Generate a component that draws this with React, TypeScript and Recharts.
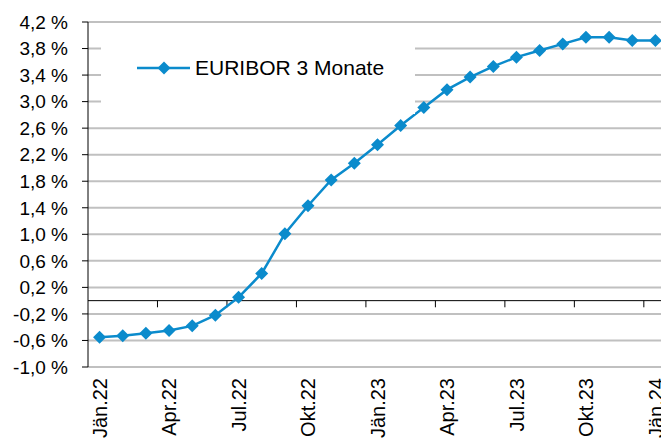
import { LineChart, Line, XAxis, YAxis, CartesianGrid, ReferenceLine, Legend } from 'recharts';

const months = [
  'Jän.22', 'Feb.22', 'Mär.22', 'Apr.22', 'Mai.22', 'Jun.22', 'Jul.22', 'Aug.22', 'Sep.22', 'Okt.22', 'Nov.22', 'Dez.22',
  'Jän.23', 'Feb.23', 'Mär.23', 'Apr.23', 'Mai.23', 'Jun.23', 'Jul.23', 'Aug.23', 'Sep.23', 'Okt.23', 'Nov.23', 'Dez.23',
  'Jän.24',
];

const euribor3m = [
  -0.55, -0.53, -0.49, -0.45, -0.38, -0.22, 0.05, 0.41, 1.01, 1.43, 1.82, 2.07,
  2.35, 2.64, 2.91, 3.18, 3.37, 3.53, 3.67, 3.77, 3.87, 3.97, 3.97, 3.92,
  3.92,
];

const yTicks = [-1.0, -0.6, -0.2, 0.2, 0.6, 1.0, 1.4, 1.8, 2.2, 2.6, 3.0, 3.4, 3.8, 4.2];
const xLabelTicks = [0, 3, 6, 9, 12, 15, 18, 21, 24];
// Excel puts the small tick marks on the zero line between categories
const xTickMarks = [2.5, 5.5, 8.5, 11.5, 14.5, 17.5, 20.5, 23.5];

const BLUE = '#0b8bcc';
const FONT = '"Liberation Sans", Arial, sans-serif';

const data = euribor3m.map((v, i) => ({ idx: i, value: v }));

const fmtPct = (v: number) => `${v.toFixed(1).replace('.', ',')} %`;

function Diamond(props: any) {
  const { cx, cy } = props;
  if (cx == null || cy == null) return null;
  const r = 6.5;
  return (
    <polygon
      points={`${cx},${cy - r} ${cx + r},${cy} ${cx},${cy + r} ${cx - r},${cy}`}
      fill={BLUE}
    />
  );
}

function MonthTick(props: any) {
  const { x, y, payload } = props;
  return (
    <g transform={`translate(${x},${y})`}>
      <text
        x={0}
        y={0}
        dy="0.36em"
        transform="rotate(-90)"
        textAnchor="end"
        fontSize={20}
        fontFamily={FONT}
        fill="#000"
      >
        {months[payload.value]}
      </text>
    </g>
  );
}

function LegendBox() {
  return (
    <div style={{ width: 314, height: 84, background: '#fff' }}>
      <svg width={314} height={84}>
        <line x1={36} y1={38} x2={89} y2={38} stroke={BLUE} strokeWidth={2.5} />
        <polygon points="63,31.5 69.5,38 63,44.5 56.5,38" fill={BLUE} />
        <text x={94} y={45} fontSize={21} fontFamily={FONT} fill="#000">
          EURIBOR 3 Monate
        </text>
      </svg>
    </div>
  );
}

export default function App() {
  return (
    <div style={{ position: 'fixed', left: 0, top: 0, width: 661, height: 441, overflow: 'hidden', background: '#fff' }}>
      <LineChart
        width={700}
        height={441}
        data={data}
        margin={{ top: 22, right: 33, left: 0, bottom: 0 }}
      >
        <CartesianGrid vertical={false} stroke="#c0c0c0" strokeWidth={2} />
        <XAxis
          dataKey="idx"
          type="number"
          domain={[-0.5, 24.5]}
          ticks={xLabelTicks}
          interval={0}
          axisLine={false}
          tickLine={false}
          tickSize={0}
          tickMargin={11}
          height={74}
          tick={<MonthTick />}
        />
        <YAxis
          type="number"
          domain={[-1, 4.2]}
          ticks={yTicks}
          interval={0}
          width={88}
          allowDataOverflow
          axisLine={{ stroke: '#000', strokeWidth: 1 }}
          tickLine={{ stroke: '#000', strokeWidth: 1 }}
          tickSize={6}
          tickMargin={14}
          tickFormatter={fmtPct}
          tick={{ fontSize: 19, fill: '#000', fontFamily: FONT }}
        />
        <ReferenceLine y={0} stroke="#000" strokeWidth={1} />
        {xTickMarks.map((t) => (
          <ReferenceLine
            key={t}
            segment={[{ x: t, y: 0 }, { x: t, y: -0.1 }]}
            stroke="#000"
            strokeWidth={1}
          />
        ))}
        <Legend
          layout="vertical"
          align="center"
          verticalAlign="middle"
          content={<LegendBox />}
          wrapperStyle={{ position: 'absolute', left: 101, top: 30, width: 314, height: 84 }}
        />
        <Line
          dataKey="value"
          stroke={BLUE}
          strokeWidth={2.5}
          dot={<Diamond />}
          activeDot={false}
          isAnimationActive={false}
        />
      </LineChart>
    </div>
  );
}
